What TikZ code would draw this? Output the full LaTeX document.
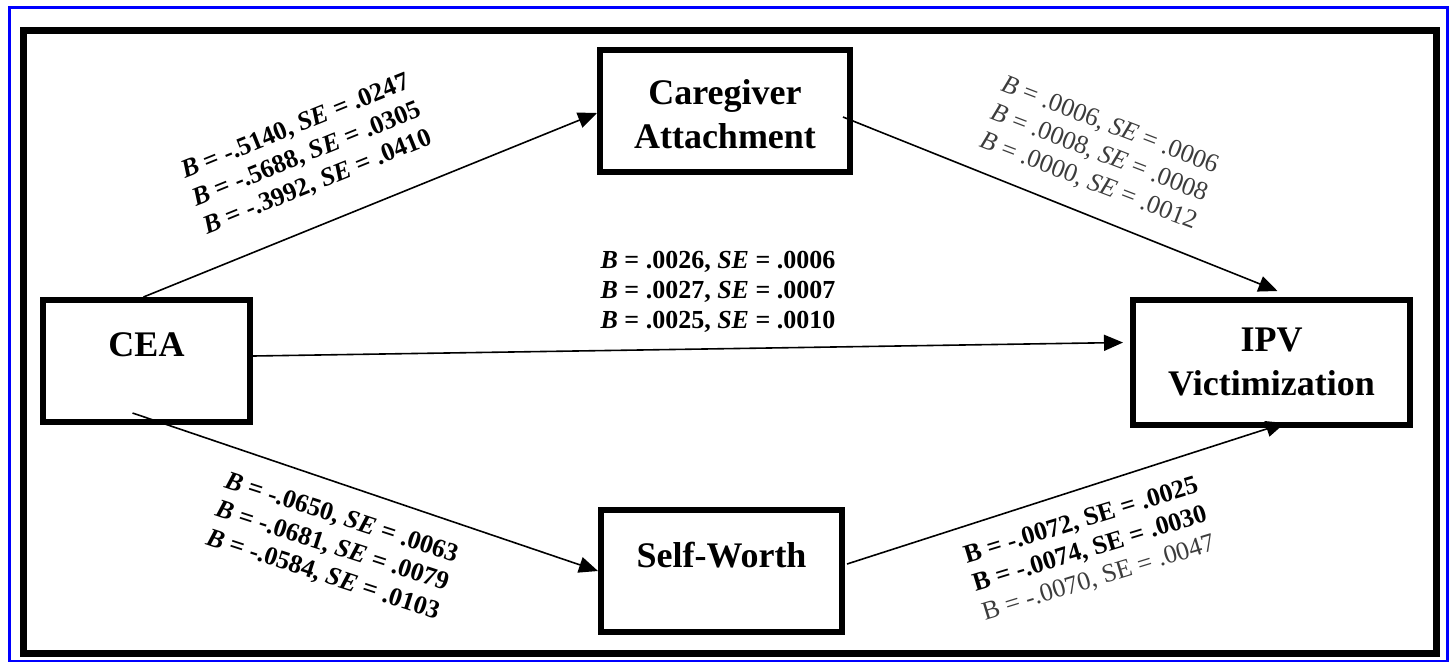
\documentclass[tikz,border=0pt]{standalone}
\usepackage{fontspec}
\setmainfont{Liberation Serif}
\usetikzlibrary{arrows.meta}
\definecolor{frameblue}{RGB}{0,0,255}
\definecolor{softgray}{RGB}{60,60,60}
\tikzset{
  varbox/.style={draw=black, line width=6pt, rectangle, minimum width=#1, inner sep=0pt},
  boxtext/.style={font=\fontsize{36}{44}\selectfont\bfseries, align=center},
  path/.style={draw=black, line width=1.6pt, -{Triangle[length=19pt,width=16pt]}},
  coef/.style={font=\fontsize{26}{30}\selectfont, align=center, inner sep=0pt},
}
\begin{document}
\begin{tikzpicture}[x=1pt,y=-1pt]
\useasboundingbox (0,0) rectangle (1450,667);
\draw[frameblue, line width=2.5pt] (9.5,7.5) rectangle (1447.5,661);
\draw[black, line width=7pt] (23.5,30) rectangle (1436.5,653.5);

% boxes
\node[varbox=207pt, minimum height=122pt, label={[boxtext, name=ceatext, yshift=16pt]center:CEA}] (cea) at (146.5,361) {};
\node[varbox=250pt, minimum height=122pt, label={[boxtext, name=caretext, yshift=-3pt]center:Caregiver\\Attachment}] (care) at (725,111) {};
\node[varbox=241pt, minimum height=122pt, label={[boxtext, name=swtext, yshift=16pt]center:Self-Worth}] (sw) at (721.5,571) {};
\node[varbox=277pt, minimum height=125pt, label={[boxtext, name=ipvtext, yshift=1pt]center:IPV\\Victimization}] (ipv) at (1271.5,362.5) {};

% connectors
\draw[path] ([xshift=-3pt]cea.north) -- ([yshift=-2pt]care.west);
\draw[path] ([xshift=-10pt,yshift=-6pt]care.east) -- ([xshift=6pt,yshift=6pt]ipv.north);
\draw[path] ([yshift=5pt]cea.east) -- ([xshift=-7pt,yshift=20pt]ipv.west);
\draw[path] ([xshift=-14pt,yshift=12pt]cea.south) -- (sw.west);
\draw[path] ([xshift=2pt,yshift=7pt]sw.east) -- ([xshift=13.5pt,yshift=5pt]ipv.south);

% coefficients
\node[coef, rotate=22, font=\fontsize{26}{30}\selectfont\bfseries] (c1) at (307,155)
  {\textit{B} = -.5140, \textit{SE} = .0247\\\textit{B} = -.5688, \textit{SE} = .0305\\\textit{B} = -.3992, \textit{SE} = .0410};
\node[coef, rotate=-21, text=softgray] (c2) at (1099,154)
  {\textit{B} = .0006, \textit{SE} = .0006\\\textit{B} = .0008, \textit{SE} = .0008\\\textit{B} = .0000, \textit{SE} = .0012};
\node[coef, font=\fontsize{26}{30}\selectfont\bfseries] (c3) at (718,292)
  {\textit{B} = .0026, \textit{SE} = .0006\\\textit{B} = .0027, \textit{SE} = .0007\\\textit{B} = .0025, \textit{SE} = .0010};
\node[coef, rotate=-18, font=\fontsize{26}{30}\selectfont\bfseries] (c4) at (332,547)
  {\textit{B} = -.0650, \textit{SE} = .0063\\\textit{B} = -.0681, \textit{SE} = .0079\\\textit{B} = -.0584, \textit{SE} = .0103};
\node[coef, rotate=17] (c5) at (1090,550)
  {\textbf{B = -.0072, SE = .0025}\\\textbf{B = -.0074, SE = .0030}\\{\color{softgray}B = -.0070, SE = .0047}};
\end{tikzpicture}
\end{document}
